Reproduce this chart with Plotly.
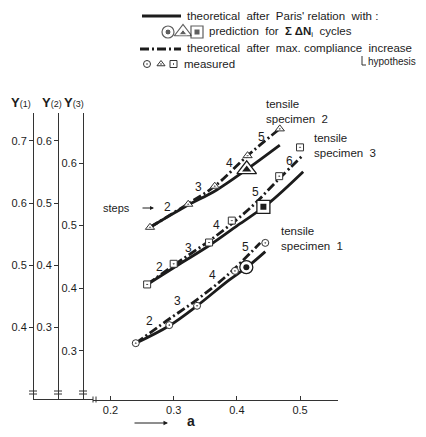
import plotly.graph_objects as go

# ---------------- data ----------------
# specimen 1 (plotted on Y(1))
s1_meas_a = [0.240, 0.293, 0.337, 0.397, 0.445]
s1_meas_y = [0.375, 0.404, 0.435, 0.491, 0.536]
s1_pred_a = [0.415]
s1_pred_y = [0.497]
s1_paris_a = [0.240, 0.293, 0.337, 0.386, 0.416, 0.445]
s1_paris_y = [0.375, 0.403, 0.435, 0.475, 0.497, 0.522]
s1_comp_a = [0.240, 0.289, 0.337, 0.386, 0.437]
s1_comp_y = [0.375, 0.411, 0.445, 0.485, 0.536]
s1_steps = ["2", "3", "4", "5"]
s1_step_a = [0.261, 0.306, 0.362, 0.413]
s1_step_y = [0.410, 0.442, 0.484, 0.530]

# specimen 2 (plotted on Y(2))
s2_meas_a = [0.2625, 0.323, 0.365, 0.417, 0.468]
s2_meas_y = [0.461, 0.498, 0.527, 0.576, 0.619]
s2_pred_a = [0.4156]
s2_pred_y = [0.554]
s2_paris_a = [0.2625, 0.318, 0.368, 0.4156, 0.468]
s2_paris_y = [0.461, 0.494, 0.521, 0.554, 0.593]
s2_comp_a = [0.2625, 0.323, 0.365, 0.417, 0.467]
s2_comp_y = [0.461, 0.499, 0.527, 0.576, 0.6185]
s2_steps = ["2", "3", "4", "5"]
s2_step_a = [0.290, 0.339, 0.389, 0.439]
s2_step_y = [0.494, 0.526, 0.565, 0.606]

# specimen 3 (plotted on Y(3))
s3_meas_a = [0.258, 0.300, 0.356, 0.392, 0.467, 0.500]
s3_meas_y = [0.406, 0.439, 0.473, 0.508, 0.579, 0.625]
s3_pred_a = [0.442]
s3_pred_y = [0.530]
s3_paris_a = [0.258, 0.310, 0.3575, 0.405, 0.449, 0.505]
s3_paris_y = [0.406, 0.439, 0.469, 0.503, 0.5345, 0.586]
s3_comp_a = [0.258, 0.310, 0.365, 0.421, 0.468, 0.502]
s3_comp_y = [0.406, 0.4435, 0.482, 0.528, 0.576, 0.610]
s3_steps = ["2", "3", "4", "5", "6"]
s3_step_a = [0.278, 0.323, 0.367, 0.429, 0.483]
s3_step_y = [0.434, 0.465, 0.501, 0.553, 0.604]

x_ticks = [0.2, 0.3, 0.4, 0.5]
y1_ticks = [0.4, 0.5, 0.6, 0.7]
y2_ticks = [0.3, 0.4, 0.5, 0.6]
y3_ticks = [0.3, 0.4, 0.5, 0.6]

# ---------------- styling helpers ----------------
OFF = 8                      # page body margin
W, H = 426 - 2 * OFF, 437 - 2 * OFF
INK = "#1c1c1c"
FONT = "Liberation Sans, Arial, sans-serif"
DASHDOT = "9px,3px,2px,3px"


def px(x):
    return (x - OFF) / W


def py(y):
    return 1 - (y - OFF) / H


fig = go.Figure()

specs = [
    ("y", s1_meas_a, s1_meas_y, s1_pred_a, s1_pred_y, s1_paris_a, s1_paris_y,
     s1_comp_a, s1_comp_y, "circle", 7, 13, 6),
    ("y2", s2_meas_a, s2_meas_y, s2_pred_a, s2_pred_y, s2_paris_a, s2_paris_y,
     s2_comp_a, s2_comp_y, "triangle-up", 8, 17, 8),
    ("y3", s3_meas_a, s3_meas_y, s3_pred_a, s3_pred_y, s3_paris_a, s3_paris_y,
     s3_comp_a, s3_comp_y, "square", 7, 13, 6),
]

for (yax, ma, my, pa, pyv, la, ly, ca, cy, sym, msz, psz, isz) in specs:
    fig.add_trace(go.Scatter(x=la, y=ly, yaxis=yax, mode="lines",
                             line=dict(color=INK, width=2.8, shape="spline"),
                             showlegend=False, hoverinfo="skip"))
    fig.add_trace(go.Scatter(x=ca, y=cy, yaxis=yax, mode="lines",
                             line=dict(color=INK, width=2.8, dash=DASHDOT, shape="spline"),
                             showlegend=False, hoverinfo="skip"))
    fig.add_trace(go.Scatter(x=ma, y=my, yaxis=yax, mode="markers",
                             marker=dict(symbol=sym + "-dot", size=msz, color="white",
                                         line=dict(color="#333", width=1)),
                             showlegend=False))
    fig.add_trace(go.Scatter(x=pa, y=pyv, yaxis=yax, mode="markers",
                             marker=dict(symbol=sym, size=psz, color="white",
                                         line=dict(color=INK, width=1.3)),
                             showlegend=False))
    fig.add_trace(go.Scatter(x=pa, y=pyv, yaxis=yax, mode="markers",
                             marker=dict(symbol=sym, size=isz, color=INK,
                                         line=dict(width=0)),
                             showlegend=False))

annotations = []
for yref, labs, sa, sy in [("y", s1_steps, s1_step_a, s1_step_y),
                           ("y2", s2_steps, s2_step_a, s2_step_y),
                           ("y3", s3_steps, s3_step_a, s3_step_y)]:
    for t, a, v in zip(labs, sa, sy):
        annotations.append(dict(x=a, y=v, xref="x", yref=yref, text=t, showarrow=False,
                                font=dict(family=FONT, size=12, color=INK)))


def txt(x, y, t, size=11, anchor="left"):
    annotations.append(dict(x=px(x), y=py(y), xref="paper", yref="paper", text=t,
                            showarrow=False, xanchor=anchor, yanchor="middle", align="left",
                            font=dict(family=FONT, size=size, color=INK)))


# specimen labels
txt(264, 112, "tensile<br>specimen  2", 11.5)
txt(312, 145.5, "tensile<br>specimen  3", 11.5)
txt(279, 238.5, "tensile<br>specimen  1", 11.5)
txt(101, 208, "steps", 11)
annotations.append(dict(x=px(154), y=py(208), ax=-13, ay=0, xref="paper", yref="paper",
                        text="", showarrow=True, arrowhead=2,
                        arrowsize=0.8, arrowwidth=1, arrowcolor=INK))

# legend block
txt(185, 16, "theoretical  after  Paris' relation  with :", 11.5)
txt(207, 32, "prediction  for  <b>Σ ΔN</b><sub>i</sub>  cycles", 11.5)
txt(185, 48, "theoretical  after  max. compliance  increase", 11.5)
txt(366, 62, "hypothesis", 10)
txt(182, 64, "measured", 11.5)

# axis titles
txt(9, 103, "<b>Y</b><span style='font-size:9px'>(1)</span>", 13)
txt(40, 103, "<b>Y</b><span style='font-size:9px'>(2)</span>", 13)
txt(62, 103, "<b>Y</b><span style='font-size:9px'>(3)</span>", 13)
txt(185, 421, "<b>a</b>", 14)
annotations.append(dict(x=px(168), y=py(423), ax=-35, ay=0, xref="paper", yref="paper",
                        text="", showarrow=True, arrowhead=2,
                        arrowsize=0.9, arrowwidth=1, arrowcolor=INK))

shapes = []


def seg(x0, y0, x1, y1, w=1, dash=None, color="#333"):
    line = dict(color=color, width=w)
    if dash:
        line["dash"] = dash
    shapes.append(dict(type="line", xref="paper", yref="paper", x0=px(x0), y0=py(y0),
                       x1=px(x1), y1=py(y1), line=line))


# legend line samples
seg(142, 16, 181, 16, 2.8, color=INK)
seg(140, 49, 181, 49, 2.8, DASHDOT, color=INK)
seg(362, 56, 362, 65, 1)
seg(362, 65, 366, 65, 1)

# bottom axis line left of the break and break marks
BOT = 399.5
seg(33, BOT, 93, BOT, 1)
seg(93, BOT - 3, 93, BOT + 3, 1)
seg(96, BOT - 3, 96, BOT + 3, 1)
for xa in [33, 58, 83]:
    seg(xa - 4, 391, xa + 4, 391, 1)
    seg(xa - 4, 394, xa + 4, 394, 1)

# legend symbols (paper placed on a hidden full-page axis pair)
fig.add_trace(go.Scatter(x=[px(168), px(183), px(197)], y=[py(32)] * 3, xaxis="x2", yaxis="y4",
                         mode="markers", showlegend=False,
                         marker=dict(symbol=["circle", "triangle-up", "square"], size=[12, 15, 12],
                                     color="white", line=dict(color=INK, width=1.2))))
fig.add_trace(go.Scatter(x=[px(168), px(183), px(197)], y=[py(32), py(33), py(32)], xaxis="x2",
                         yaxis="y4", mode="markers", showlegend=False,
                         marker=dict(symbol=["circle", "triangle-up", "square"], size=[6, 7, 6],
                                     color=INK)))
fig.add_trace(go.Scatter(x=[px(147), px(161), px(173.5)], y=[py(64)] * 3, xaxis="x2", yaxis="y4",
                         mode="markers", showlegend=False,
                         marker=dict(symbol=["circle-dot", "triangle-up-dot", "square-dot"], size=7,
                                     color="white", line=dict(color="#333", width=1))))

tickfont = dict(family=FONT, size=11, color=INK)
ydom = [py(BOT), py(113)]
axcommon = dict(showgrid=False, zeroline=False, showline=True, linecolor="#333", linewidth=1,
                ticks="outside", ticklen=4, tickcolor="#333", tickfont=tickfont, anchor="free",
                automargin=False)

fig.update_layout(
    width=W, height=H, margin=dict(l=0, r=0, t=0, b=0, autoexpand=False),
    paper_bgcolor="white", plot_bgcolor="rgba(0,0,0,0)",
    xaxis=dict(domain=[px(93), px(338)], range=[0.1723, 0.5601], anchor="y",
               showgrid=False, zeroline=False, showline=True, linecolor="#333", linewidth=1,
               ticks="inside", ticklen=4, tickcolor="#333", tickvals=x_ticks, automargin=False,
               ticktext=[f"{v:.1f}" for v in x_ticks], tickfont=tickfont),
    yaxis=dict(domain=ydom, range=[0.2846, 0.7445], position=px(33), tickvals=y1_ticks,
               ticktext=[f"{v:.1f}" for v in y1_ticks], **axcommon),
    yaxis2=dict(range=[0.1846, 0.6445], overlaying="y", position=px(58), tickvals=y2_ticks,
                ticktext=[f"{v:.1f}" for v in y2_ticks], **axcommon),
    yaxis3=dict(range=[0.2222, 0.6799], overlaying="y", position=px(83), tickvals=y3_ticks,
                ticktext=[f"{v:.1f}" for v in y3_ticks], **axcommon),
    xaxis2=dict(domain=[0, 1], range=[0, 1], visible=False, anchor="y4"),
    yaxis4=dict(domain=[0, 1], range=[0, 1], visible=False, anchor="x2"),
    annotations=annotations, shapes=shapes,
)

fig.write_html("out.html")
